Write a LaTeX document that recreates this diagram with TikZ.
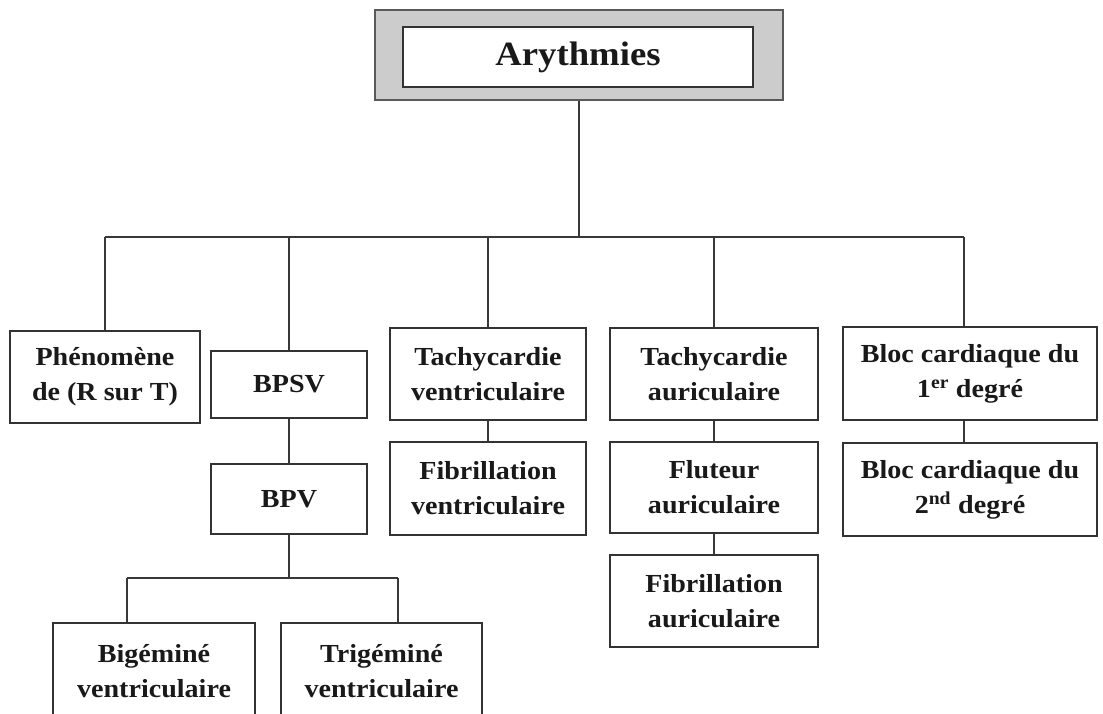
\documentclass[tikz,border=0pt]{standalone}
\usepackage{fontspec}
\setmainfont{Liberation Serif}
\newfontfamily\boxfont{Liberation Serif}[FakeStretch=1.08]
\begin{document}
\begin{tikzpicture}[x=1pt,y=-1pt,
  ink/.style={draw=black!80},
  box/.style={ink, line width=1.8pt, fill=white, rectangle, inner sep=0pt,
    align=center, text=black!90,
    font=\boxfont\bfseries\fontsize{26}{35}\selectfont},
  conn/.style={draw=black!78, line width=2pt}]
\useasboundingbox (0,0) rectangle (1103,713);
\fill[white] (0,0) rectangle (1103,713);
\clip (0,0) rectangle (1103,713);

% root
\node[rectangle, draw=black!65, line width=2.4pt, fill=black!20,
  minimum width=408, minimum height=90] (root) at (579,55) {};
\node[box, minimum width=350, minimum height=60,
  font=\boxfont\bfseries\fontsize{34}{40}\selectfont] (rootin) at (578,57) {Arythmies};

% first level
\node[box, minimum width=190, minimum height=92] (phen) at (105,377) {Phénomène\\de (R sur T)};
\node[box, minimum width=156, minimum height=67] (bpsv) at (289,384.5) {BPSV};
\node[box, minimum width=196, minimum height=92] (tv) at (488,374) {Tachycardie\\ventriculaire};
\node[box, minimum width=208, minimum height=92] (ta) at (714,374) {Tachycardie\\auriculaire};
\node[box, minimum width=254, minimum height=93] (b1) at (970,373.5) {Bloc cardiaque du\\1\textsuperscript{er} degré};

% lower levels
\node[box, minimum width=156, minimum height=70] (bpv) at (289,499) {BPV};
\node[box, minimum width=196, minimum height=93] (fv) at (488,488.5) {Fibrillation\\ventriculaire};
\node[box, minimum width=208, minimum height=91] (fla) at (714,487.5) {Fluteur\\auriculaire};
\node[box, minimum width=208, minimum height=92] (fba) at (714,601) {Fibrillation\\auriculaire};
\node[box, minimum width=254, minimum height=93] (b2) at (970,489.5) {Bloc cardiaque du\\2\textsuperscript{nd} degré};
\node[box, minimum width=202, minimum height=96, anchor=north] (big) at (154,622) {Bigéminé\\ventriculaire};
\node[box, minimum width=201, minimum height=96, anchor=north] (trig) at (381.5,622) {Trigéminé\\ventriculaire};

% connector anchors
\coordinate (bar) at (0,237);
\coordinate (bdrop) at (964,0);
\coordinate (kl) at (127,578);
\coordinate (kr) at (398,578);

% main distribution bar
\draw[conn] (root.south) -- (root.south |- bar);
\draw[conn] (phen.north |- bar) -- (bdrop |- bar);
\draw[conn] (phen.north |- bar) -- (phen.north);
\draw[conn] (bpsv.north |- bar) -- (bpsv.north);
\draw[conn] (tv.north |- bar) -- (tv.north);
\draw[conn] (ta.north |- bar) -- (ta.north);
\draw[conn] (bdrop |- bar) -- (bdrop |- b1.north);

% vertical chains
\draw[conn] (bpsv.south) -- (bpv.north);
\draw[conn] (tv.south) -- (fv.north);
\draw[conn] (ta.south) -- (fla.north);
\draw[conn] (fla.south) -- (fba.north);
\draw[conn] (bdrop |- b1.south) -- (bdrop |- b2.north);

% BPV split
\draw[conn] (bpv.south) -- (bpv.south |- kl);
\draw[conn] (kl) -- (kr);
\draw[conn] (kl) -- (kl |- big.north);
\draw[conn] (kr) -- (kr |- trig.north);
\end{tikzpicture}
\end{document}
